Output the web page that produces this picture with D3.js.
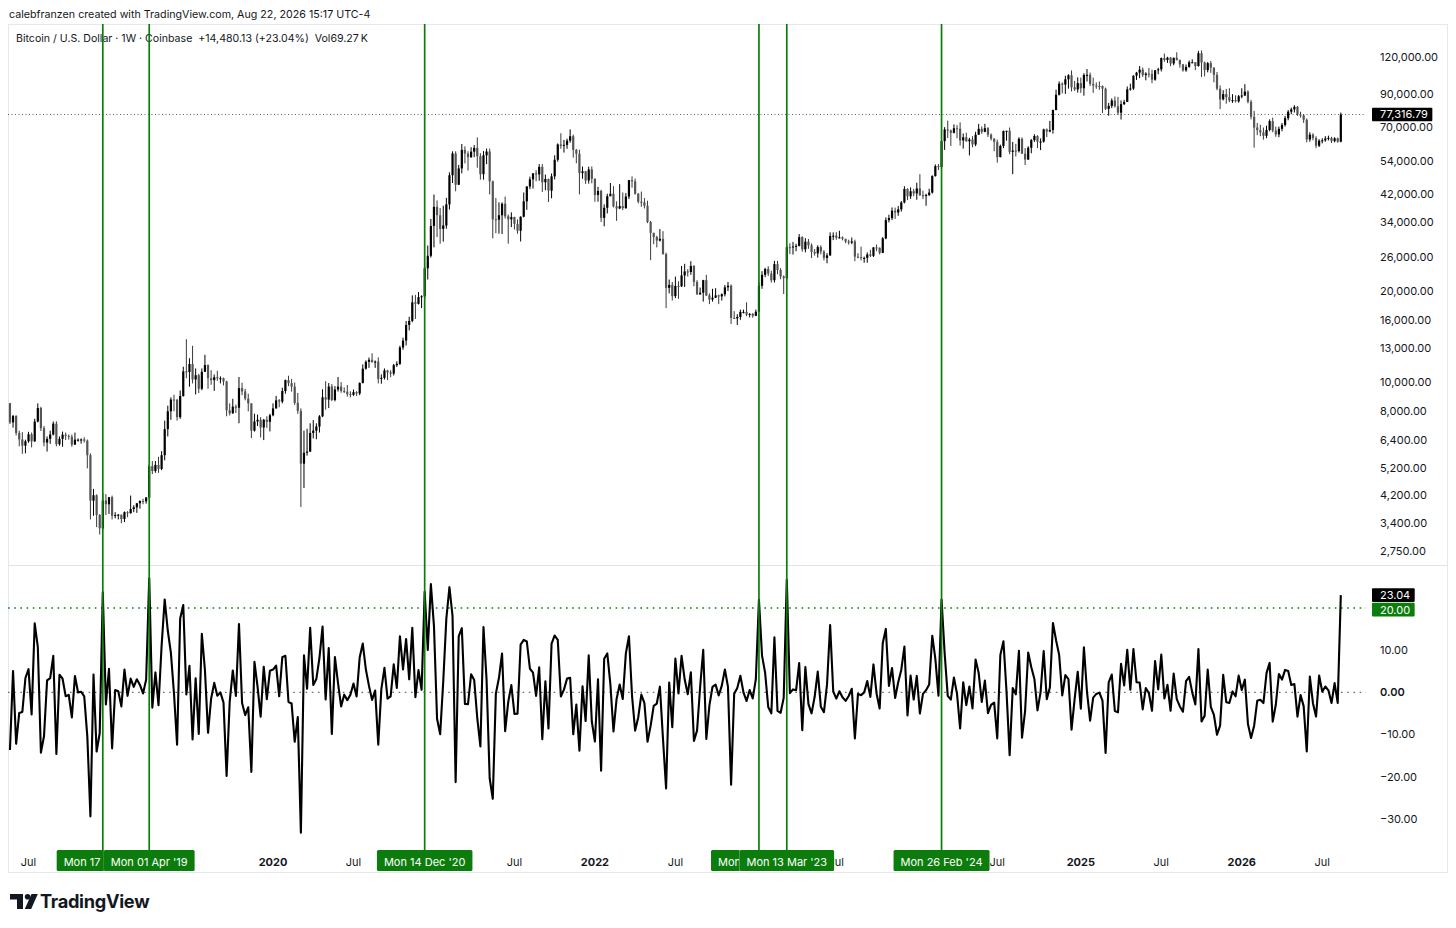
<!DOCTYPE html>
<html><head><meta charset="utf-8">
<script src="https://cdn.jsdelivr.net/npm/d3@7"></script>
<style>body{margin:0;background:#fff}svg{display:block;font-family:Inter,"Noto Sans",sans-serif}</style>
</head><body><svg id="c" width="1456" height="928"></svg>
<script>
// ---------- DATA (weekly BTC/USD, Coinbase, week starting Monday) ----------
const startWeek = "2018-05-21";
const prevClose = 8510;
const closes = [
7350,7720,6780,6450,6150,6360,6710,6360,7400,8200,
7030,6300,6480,6700,7280,6220,6480,6690,6630,6590,
6200,6440,6440,6450,6390,5720,4040,4210,3620,3270,
4045,3930,4150,3600,3620,3630,3510,3700,3670,3790,
3840,3960,4030,4020,4140,5260,5070,5310,5150,5720,
6980,8000,8750,8730,7650,8990,10850,10800,11480,10200,
10540,9500,10820,11390,10300,10150,10380,10300,10300,10050,
8060,7880,8290,8220,9550,9310,8810,8500,6900,7400,
7500,7070,7500,7380,7760,8180,8700,8620,9340,10150,
9920,9660,8530,8030,5360,5830,5880,6780,6900,7120,
7700,8900,8750,9670,8720,9450,9660,9340,9290,9120,
9070,9260,9170,9930,11080,11680,11860,11650,11700,10250,
10330,10930,10770,10670,11380,11500,13030,13740,15480,15960,
18400,18190,19150,19270,23860,26260,33000,38180,35800,32260,
33110,38900,48600,57400,45200,51200,59000,57400,55800,58200,
59900,56200,49000,56600,58250,46400,34700,34600,35800,39100,
35500,34700,35300,33500,31800,35400,39800,44600,47100,49300,
48900,51800,46050,47250,43200,48200,54700,61500,60900,61300,
63300,65500,59000,57300,49400,50100,46700,50800,47300,41800,
43100,35100,37900,41400,42200,38300,37700,38400,37800,41300,
46800,46400,42200,39700,39500,38500,34000,31300,30300,29500,
29900,26600,20550,21030,19300,20850,20800,22600,23300,23200,
24300,21500,19550,19800,21800,19400,18800,19050,19400,19260,
19570,20630,20900,16330,16280,16450,17100,17100,16750,16840,
16600,17120,20880,22700,23750,22930,21790,24640,23560,22420,
22130,28040,27990,28190,28330,30300,27590,29250,28440,27030,
26750,28070,27120,25850,26340,30540,30620,30170,30250,29900,
29300,29050,29300,26100,26010,25840,25840,26530,26250,27990,
27920,26860,29990,34500,35030,37060,36570,37450,39470,43760,
41370,43010,42280,43930,41730,41580,41800,42580,48300,52140,
51730,63100,68960,68400,67220,69600,69360,63430,64960,63000,
63890,61480,66270,69300,67750,69650,66220,64270,62700,55860,
60800,68160,68250,58100,58700,58430,64200,57300,54800,59990,
63570,65600,62800,62850,69000,67900,68700,80000,89900,97900,
97200,101200,104400,95200,93700,98300,94500,104600,104700,97700,
96500,96150,96100,94200,80700,82600,86100,82300,78400,83700,
85100,93700,94300,104000,106500,109000,104600,105700,105500,100900,
108400,109200,119000,117300,119400,114200,119300,117400,113500,108300,
111200,115300,115300,112000,123500,115000,108600,114500,110600,104700,
94200,86800,90400,88300,86100,86300,85500,88900,89400,92100,
85200,76000,70000,68600,67400,65700,68700,73500,68400,66400,
69300,71400,75200,79000,80400,82000,77300,76800,74300,63900,
66300,64600,60900,63340,63460,64350,64670,63050,64440,62836.66,
77316.79];
const highs = [
8530,7780,7760,6900,6820,6440,6840,6800,7560,8500,
8280,7150,6600,6900,7400,7410,6600,6850,6800,6700,
6700,6800,6500,6500,6560,6450,5800,4420,4240,3650,
4280,4250,4150,4200,3700,3650,3630,3720,3730,4200,
3900,3970,4050,4100,4150,5350,5470,5470,5650,5900,
7450,8350,8900,9080,8800,9380,11250,13880,12000,13200,
11100,10650,11100,12320,11450,10950,10600,10900,10450,10350,
10100,8500,8800,8420,10400,9950,9500,9150,8500,7850,
7800,7650,7550,7700,7850,8500,9000,8780,9580,10200,
10500,10250,9970,9200,8180,6900,7000,7300,7480,7300,
7770,9470,10070,9930,9850,9700,10400,10000,9600,9780,
9320,9450,9330,9980,11450,11800,12070,12470,11800,12080,
10600,11100,10980,10950,11490,11720,13200,14050,15960,16480,
19400,19480,19900,19420,24300,28400,34800,41950,40100,37850,
38500,40900,49700,58350,58350,52600,61700,60600,58400,60200,
61200,64900,57500,58450,59600,59600,46650,40850,39500,39500,
41300,36000,36600,35400,34680,35500,42600,44700,48100,49400,
50500,52900,52950,48850,47350,49250,56600,62000,67000,63700,
64300,69000,66300,59400,59100,51950,50150,51900,52000,47500,
44500,43500,38900,42200,45800,44700,39800,45400,42600,42400,
46900,48200,47400,42400,42900,40800,40000,34300,31300,30600,
32200,31700,26900,21900,21500,22400,21600,24300,24700,23700,
25200,24450,21800,20600,21850,22700,19700,20400,20500,19500,
19700,21000,21500,21100,17200,16800,17400,17400,18400,16950,
16950,17400,21450,23350,23950,24250,23450,25250,25250,23900,
22600,28400,28900,29200,28800,31000,30500,30050,29850,28880,
27650,28450,28450,27400,26800,31400,31400,31450,31800,30450,
29900,29700,30200,29700,26800,28150,26100,26950,27500,28050,
28600,28000,30300,35200,35950,38000,37950,38450,39900,44700,
44000,44300,43800,45900,49000,43200,42200,43850,48600,52800,
52950,64000,70200,73800,68900,71700,71300,72800,66900,67250,
64700,65500,67750,71950,70600,72000,70200,66950,64500,63800,
61400,68400,68300,70000,62700,61800,65000,64900,59800,60650,
64100,66500,66000,64400,69400,69500,73600,80300,93450,99600,
98800,104000,105200,108300,99950,102700,102500,106000,109400,106500,
102500,98800,99500,96500,95000,84500,87450,88750,88500,86100,
86500,95800,97900,104300,107100,112000,110700,106800,110400,108900,
108500,110500,119500,123200,120200,119900,119400,124400,117600,113600,
113300,116800,117900,115400,125700,126200,115900,115500,116400,111000,
107000,96600,93100,94000,94500,90300,89500,89800,94500,97500,
93000,86500,79500,72500,71500,70000,71000,74500,75500,70500,
70500,72500,76500,80000,81500,83000,82500,79000,77500,75000,
67500,67000,65500,64000,64500,65500,65800,65200,65000,64800,
78500];
const lows = [
7260,7060,6650,6120,5780,5800,6290,6070,6330,7350,
6880,6120,5880,6240,6650,6120,6150,6100,6420,6440,
6100,6200,6340,6250,6300,5170,3500,3600,3300,3120,
3230,3620,3650,3500,3530,3500,3400,3430,3560,3660,
3700,3680,3800,3930,3950,4100,4950,5000,5000,5100,
5500,6600,7500,8000,7450,7550,8950,10300,9650,9900,
9100,9200,9400,10800,9500,9800,9350,10100,9900,9750,
7700,7750,7850,7900,7300,9050,8700,8000,6520,6850,
7150,6550,6420,7050,6860,7700,8160,8250,8500,9150,
9700,9300,8400,7850,3850,4450,5700,5860,6500,6460,
6800,7650,8100,8200,8650,8630,9300,9220,9200,8950,
8900,9000,9000,9050,9900,11000,11150,11600,11150,9900,
9880,10200,10150,10380,10520,11230,11400,12800,13230,14850,
15800,16200,18100,17600,19000,21900,25900,28000,30300,28800,
29250,32300,37400,45800,43000,45100,49300,53200,50400,55500,
55800,51500,47000,47000,52900,42000,30000,31200,31100,31000,
34900,28800,32700,32100,31100,29300,35200,37300,43700,43900,
46400,46600,42800,43350,39600,40750,47100,53900,59500,57800,
59500,62300,55600,53250,42000,47300,45500,45600,45700,39700,
39700,34000,32900,36300,41700,38000,34300,37500,37200,37600,
40500,44200,41900,39200,38200,37700,33700,25400,28700,28000,
29300,26500,17600,19700,18650,19000,18900,20700,20700,22400,
22700,20800,19500,19500,18500,19300,18150,18500,19050,18150,
18650,19250,20050,15600,16200,15480,16100,16900,16550,16400,
16350,16550,17100,20400,22300,22500,21400,21400,22800,21950,
19600,21900,26600,26500,27200,28200,27100,26950,27700,25800,
26300,25900,26550,25350,24800,26250,29600,29700,29950,29550,
28900,28600,28700,25200,25750,25350,24900,24900,26000,26000,
27200,26550,26800,29800,33900,34500,34800,35650,36800,39200,
40200,40550,41400,40300,41500,40500,38500,41450,42250,48100,
50600,50900,59000,64600,60800,66900,64500,61000,59600,62800,
56550,60150,60700,66100,66700,67500,65100,63400,58400,53500,
55700,59800,63300,57100,49000,56100,57800,57200,52550,54600,
57500,62700,59800,58900,62400,65050,67500,66800,79900,89400,
90800,90500,94200,92200,92600,91400,91200,89300,99500,96200,
91200,94100,93400,78200,80000,76600,81200,81600,77100,74400,
83100,85100,92800,93300,100700,102100,103000,100400,102600,98200,
100100,105200,107400,115700,114700,111900,112600,116800,110600,107300,
107200,110600,114400,108600,111500,103000,103500,106700,106300,98900,
93000,80600,86100,84000,85000,84500,84800,84600,87500,89000,
84200,74500,60000,66000,65500,63800,64500,68000,67500,65200,
65000,68000,70500,74000,77500,78500,76500,75500,72500,62500,
62800,63500,59800,60300,62000,62800,63400,62200,62500,62300,
62500];
const priceTicks = [120000,90000,70000,54000,42000,34000,26000,20000,16000,13000,10000,8000,6400,5200,4200,3400,2750];
const rocTicks = [10,0,-10,-20,-30];
const rocLevel = 20;
const markerWeeks = ["2018-12-17","2019-04-01","2020-12-14","2023-01-09","2023-03-13","2024-02-26"];
const markerLabels = ["Mon 17 Dec '18","Mon 01 Apr '19","Mon 14 Dec '20","Mon 09 Jan '23","Mon 13 Mar '23","Mon 26 Feb '24"];
const headerText = "Bitcoin / U.S. Dollar · 1W · Coinbase  +14,480.13 (+23.04%)  Vol69.27\u2009K";
const creditText = "calebfranzen created with TradingView.com, Aug 22, 2026 15:17 UTC-4";

// ---------- DERIVED ----------
const WEEK = 7*864e5;
const t0 = Date.parse(startWeek+"T00:00:00Z");
const bars = closes.map((c,i)=>{
  const o = i ? closes[i-1] : prevClose;
  return {d:new Date(t0+i*WEEK), o, c, h:Math.max(highs[i],o,c), l:Math.min(lows[i],o,c),
          roc:(c-o)/o*100};
});

// ---------- LAYOUT ----------
const FL=8, FR=1448, FT=24, FB=873, PR=1366;
const upTop=FT, upBot=565, loTop=566, loBot=845;
const GREEN="#0c7d0c", INK="#131722";

const svg = d3.select("#c");
const x = d3.scaleUtc().domain([bars[0].d, bars[bars.length-1].d]).range([9.95,1340.8]);
const yP = d3.scaleLog().domain([2750,120000]).range([551,57]);
const yR = d3.scaleLinear().domain([-30,20]).range([819,608]);

const defs = svg.append("defs");
defs.append("clipPath").attr("id","cu").append("rect").attr("x",FL).attr("y",upTop).attr("width",PR-FL).attr("height",upBot-upTop);
defs.append("clipPath").attr("id","cl").append("rect").attr("x",FL).attr("y",loTop).attr("width",PR-FL).attr("height",loBot-loTop);

// credit line
svg.append("text").attr("x",9).attr("y",17.5).attr("font-size",10.7).attr("fill",INK).text(creditText);
// frame
svg.append("rect").attr("x",FL+0.5).attr("y",FT+0.5).attr("width",FR-FL-1).attr("height",FB-FT-1)
  .attr("fill","none").attr("stroke","#e6e8ee");
svg.append("line").attr("x1",FL).attr("x2",FR).attr("y1",upBot+0.5).attr("y2",upBot+0.5).attr("stroke","#e0e3eb");

// header
svg.append("text").attr("x",16).attr("y",41.5).attr("font-size",10.6).attr("fill",INK)
  .attr("xml:space","preserve").style("white-space","pre").text(headerText);

// ---- upper pane: candles ----
const gU = svg.append("g").attr("clip-path","url(#cu)");
const last = bars[bars.length-1];
gU.append("line").attr("x1",FL).attr("x2",PR).attr("y1",yP(last.c)).attr("y2",yP(last.c))
  .attr("stroke","#5d606b").attr("stroke-dasharray","1,2.5").attr("stroke-width",1);
const cg = gU.selectAll("g.k").data(bars).join("g").attr("class","k");
cg.append("line").attr("x1",d=>x(d.d)).attr("x2",d=>x(d.d)).attr("y1",d=>yP(d.h)).attr("y2",d=>yP(d.l))
  .attr("stroke",d=>d.c>=d.o?"#000":"#3a3a3a").attr("stroke-width",1);
cg.append("rect").attr("x",d=>x(d.d)-1.1).attr("width",2.2)
  .attr("y",d=>yP(Math.max(d.o,d.c))).attr("height",d=>Math.max(1,yP(Math.min(d.o,d.c))-yP(Math.max(d.o,d.c))))
  .attr("fill",d=>d.c>=d.o?"#000":"#555");

// ---- lower pane ----
const gL = svg.append("g").attr("clip-path","url(#cl)");
gL.append("line").attr("x1",FL).attr("x2",PR).attr("y1",yR(rocLevel)).attr("y2",yR(rocLevel))
  .attr("stroke",GREEN).attr("stroke-width",1.6).attr("stroke-dasharray","1.6,4.6");
gL.append("line").attr("x1",FL).attr("x2",PR).attr("y1",yR(0)).attr("y2",yR(0))
  .attr("stroke","#6a6d78").attr("stroke-width",1.4).attr("stroke-dasharray","1.6,4.6");

// ---- marker vertical lines ----
const markers = markerWeeks.map((w,i)=>({d:new Date(Date.parse(w+"T00:00:00Z")), label:markerLabels[i]}));
svg.append("g").selectAll("line").data(markers).join("line")
  .attr("x1",d=>x(d.d)).attr("x2",d=>x(d.d)).attr("y1",FT).attr("y2",850)
  .attr("stroke",GREEN).attr("stroke-width",1.7);

gL.append("path").datum(bars)
  .attr("d",d3.line().x(d=>x(d.d)).y(d=>yR(d.roc)))
  .attr("fill","none").attr("stroke","#000").attr("stroke-width",2.1).attr("stroke-linejoin","round");

// ---- right axes ----
const fmtP = d3.format(",.2f");
svg.append("g").selectAll("text").data(priceTicks).join("text")
  .attr("x",1380).attr("y",d=>yP(d)).attr("dy","0.35em").attr("font-size",11).attr("fill",INK).text(d=>fmtP(d));
svg.append("g").selectAll("text").data(rocTicks).join("text")
  .attr("x",1380).attr("y",d=>yR(d)).attr("dy","0.35em").attr("font-size",11).attr("fill",INK)
  .attr("font-weight",d=>d===0?600:400).text(d=>d3.format(".2f")(d).replace("-","\u2212"));

function tag(y,txt,fill){
  const g=svg.append("g");
  const t=g.append("text").attr("x",1380).attr("y",y).attr("dy","0.35em").attr("font-size",11).attr("fill","#fff").text(txt);
  const w=t.node().getComputedTextLength();
  g.insert("rect","text").attr("x",1372).attr("y",y-6.8).attr("width",w+12.5).attr("height",13.6).attr("fill",fill).attr("rx",1);
}
tag(yP(last.c), fmtP(last.c), "#000");
const yLast = yR(last.roc);
tag(yLast, d3.format(".2f")(last.roc), "#000");
tag(Math.max(yR(rocLevel), yLast+14.5), d3.format(".2f")(rocLevel), GREEN);

// ---- marker label boxes (measured first, so the time axis can yield to them) ----
const meas = svg.append("text").attr("font-size",11).attr("visibility","hidden");
markers.forEach(m=>{
  meas.text(m.label);
  const w = meas.node().getComputedTextLength()+14;
  m.cx = x(m.d); m.x0 = m.cx-w/2; m.x1 = m.cx+w/2;
});
meas.remove();

// ---- time axis ----
const tlabels=[];
bars.forEach((b,i)=>{
  const m=b.d.getUTCMonth(), prev = i? bars[i-1].d.getUTCMonth() : -1;
  if(m!==prev && (m===0||m===6)) tlabels.push({d:b.d, t: m===0? String(b.d.getUTCFullYear()) : "Jul", bold:m===0});
});
const shown = tlabels.filter(d=>{const px=x(d.d); return px>14 && !markers.some(m=>px>=m.x0 && px<=m.x1);});
const tg = svg.append("g");
shown.forEach((d,k)=>{
  const t = tg.append("text").attr("x",x(d.d)).attr("y",866).attr("text-anchor","middle").attr("font-size",11)
    .attr("font-weight",d.bold?700:400).attr("fill",INK).text(d.t);
  const bb = t.node().getBBox();
  const cover = markers.find(m=>bb.x < m.x1 && bb.x+bb.width > m.x0);
  if(cover){
    const id="tc"+k;
    defs.append("clipPath").attr("id",id).append("rect").attr("x",cover.x1).attr("y",850).attr("width",60).attr("height",22);
    t.attr("clip-path",`url(#${id})`);
  }
});

// ---- marker labels (later ones on top; covered parts clipped away) ----
markers.forEach((m,k)=>{
  const g=svg.append("g");
  const next = markers[k+1];
  if(next && next.x0 < m.x1){
    const id="mc"+k;
    defs.append("clipPath").attr("id",id).append("rect").attr("x",m.x0-1).attr("y",848).attr("width",next.x0-m.x0+1).attr("height",26);
    g.attr("clip-path",`url(#${id})`);
  }
  g.append("rect").attr("x",m.x0).attr("y",850).attr("width",m.x1-m.x0).attr("height",21).attr("fill",GREEN).attr("rx",1.5);
  g.append("text").attr("x",m.cx).attr("y",865.5).attr("text-anchor","middle")
    .attr("font-size",11).attr("fill","#fff").text(m.label);
});

// ---- TradingView logo ----
const lg = svg.append("g").attr("fill","#131722");
lg.append("rect").attr("x",10).attr("y",894).attr("width",13).attr("height",5.5);
lg.append("rect").attr("x",17).attr("y",894).attr("width",6).attr("height",15);
lg.append("circle").attr("cx",27.6).attr("cy",896.8).attr("r",2.8);
lg.append("path").attr("d","M31.5,894 L37.8,894 L31.2,909 L24.8,909 Z");
svg.append("text").attr("x",40).attr("y",908).attr("font-size",18.2).attr("font-weight",700)
  .attr("letter-spacing","-0.3").attr("fill","#131722").text("TradingView");
</script></body></html>
